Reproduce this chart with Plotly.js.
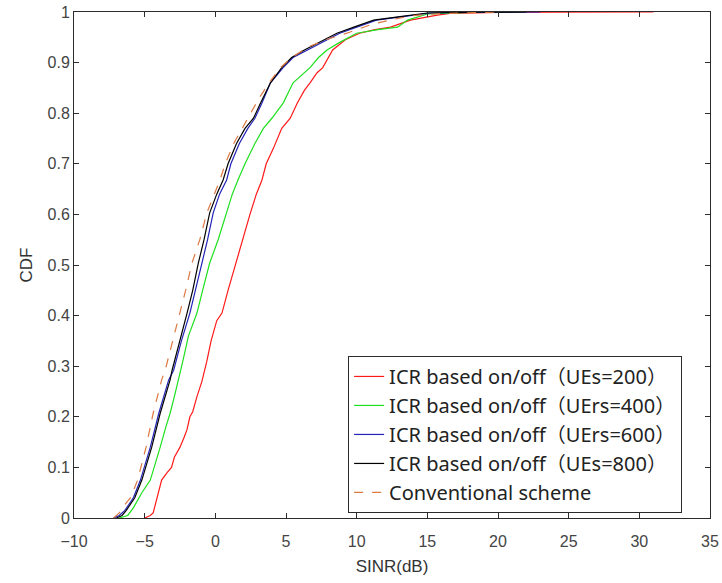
<!DOCTYPE html>
<html>
<head>
<meta charset="utf-8">
<script src="https://cdn.plot.ly/plotly-3.0.1.min.js"></script>
<style>html,body{margin:0;padding:0;background:#fff;}#chart{width:722px;height:583px;}</style>
</head>
<body>
<div id="chart"></div>
<script>
// Series names
const seriesNames = [
  "ICR based on/off\uFF08UEs=200\uFF09",
  "ICR based on/off\uFF08UErs=400\uFF09",
  "ICR based on/off\uFF08UErs=600\uFF09",
  "ICR based on/off\uFF08UEs=800\uFF09",
  "Conventional scheme"
];

// UEs=200 (red)
const redX = [-5.0,-4.6,-4.4,-4.2,-4.0,-3.8,-3.4,-3.1,-2.9,-2.5,-2.2,-2.0,-1.8,-1.6,-1.3,-0.95,-0.6,-0.3,0.1,0.47,0.9,1.4,1.9,2.45,2.9,3.3,3.6,4.1,4.7,5.3,5.8,6.3,6.7,7.2,7.6,8.3,9.2,10.2,11.3,12.4,13.8,15.7,16.6,20,24,31];
const redY = [0,0.005,0.01,0.03,0.05,0.075,0.09,0.1,0.12,0.14,0.16,0.175,0.2,0.21,0.24,0.27,0.31,0.35,0.39,0.405,0.45,0.5,0.55,0.6,0.64,0.668,0.7,0.73,0.77,0.79,0.82,0.845,0.86,0.88,0.89,0.925,0.945,0.958,0.965,0.97,0.984,0.994,0.997,0.999,0.9995,1];

// UErs=400 (green)
const greenX = [-6.8,-6.2,-5.8,-5.2,-4.6,-4.2,-3.9,-3.5,-3.2,-2.9,-2.6,-2.3,-1.9,-1.3,-0.9,-0.4,0.2,0.8,1.2,1.6,2.1,2.8,3.4,4.0,4.8,5.5,6.1,6.7,7.3,7.9,8.8,10.0,11.5,12.9,13.6,14.3,15,18,22];
const greenY = [0,0.005,0.02,0.05,0.075,0.11,0.14,0.18,0.207,0.24,0.273,0.31,0.36,0.405,0.45,0.504,0.55,0.603,0.64,0.668,0.7,0.74,0.77,0.79,0.82,0.86,0.875,0.89,0.91,0.925,0.94,0.958,0.965,0.97,0.984,0.99,0.996,0.999,1];

// UErs=600 (blue)
const blueX = [-7.2,-6.8,-6.4,-5.8,-5.3,-4.6,-4.0,-3.3,-2.95,-2.4,-1.8,-1.4,-0.95,-0.55,-0.15,0.3,0.8,1.1,1.7,2.3,2.8,3.3,3.9,4.8,5.5,6.5,7.5,8.8,10,11.4,13,14.2,15.2,19,23];
const blueY = [0,0.005,0.015,0.04,0.075,0.14,0.207,0.273,0.292,0.35,0.405,0.45,0.504,0.55,0.603,0.64,0.668,0.7,0.74,0.77,0.79,0.82,0.86,0.89,0.91,0.925,0.94,0.958,0.97,0.984,0.99,0.994,0.998,0.9995,1];

// UEs=800 (black)
const blackX = [-7.0,-6.6,-6.3,-5.7,-5.2,-4.5,-3.9,-3.2,-3.06,-2.5,-2.0,-1.6,-1.2,-0.8,-0.4,0.1,0.55,0.9,1.5,2.1,2.7,3.2,3.9,4.7,5.4,6.3,7.3,8.6,9.8,11.2,12.8,14.0,15.0,18,22];
const blackY = [0,0.005,0.015,0.04,0.075,0.14,0.207,0.273,0.292,0.35,0.405,0.45,0.504,0.55,0.603,0.64,0.668,0.7,0.74,0.77,0.79,0.82,0.86,0.89,0.91,0.925,0.94,0.958,0.97,0.984,0.99,0.994,0.998,0.9995,1];

// Conventional scheme (dashed)
const convX = [-7.2,-6.8,-6.3,-6.0,-5.5,-4.9,-4.4,-3.8,-3.55,-3.0,-2.5,-2.1,-1.65,-1.1,-0.6,-0.1,0.33,0.7,1.3,1.9,2.5,3.1,3.8,4.6,5.4,6.5,7.8,9.5,11,12.5,14,16,20];
const convY = [0,0.01,0.03,0.04,0.075,0.14,0.207,0.273,0.292,0.35,0.405,0.45,0.504,0.55,0.603,0.64,0.668,0.7,0.74,0.77,0.8,0.83,0.86,0.89,0.91,0.93,0.945,0.96,0.975,0.985,0.993,0.997,1];

const xTickVals = [-10,-5,0,5,10,15,20,25,30,35];
const yTickVals = [0,0.1,0.2,0.3,0.4,0.5,0.6,0.7,0.8,0.9,1];

const colors = ["#ff1a1a", "#1ee01e", "#2323b8", "#000000", "#dd7a44"];
const xs = [redX, greenX, blueX, blackX, convX];
const ys = [redY, greenY, blueY, blackY, convY];

const traces = xs.map((x, i) => ({
  x: x, y: ys[i], type: "scatter", mode: "lines",
  name: seriesNames[i], legendgroup: "g" + i,
  line: {color: colors[i], width: 1.2, dash: i === 4 ? "dash" : "solid"}
}));

const axisCommon = {
  showgrid: false, zeroline: false, showline: true, linecolor: "#2b2b2b", linewidth: 1,
  mirror: "ticks", ticks: "inside", ticklen: 5, tickcolor: "#2b2b2b",
  tickfont: {family: "Liberation Sans, Arial, sans-serif", size: 16, color: "#444"}
};

const layout = {
  width: 722, height: 583,
  margin: {l: 74, r: 12, t: 12, b: 65},
  paper_bgcolor: "#fff", plot_bgcolor: "#fff",
  showlegend: true,
  xaxis: Object.assign({}, axisCommon, {
    range: [-10, 35], tickvals: xTickVals, ticklabelstandoff: 9,
    title: {text: "SINR(dB)", font: {family: "Liberation Sans, Arial, sans-serif", size: 17, color: "#333"}, standoff: 10}
  }),
  yaxis: Object.assign({}, axisCommon, {
    range: [0, 1], tickvals: yTickVals,
    title: {text: "CDF", font: {family: "Liberation Sans, Arial, sans-serif", size: 17, color: "#333"}, standoff: 10}
  }),
  legend: {
    x: 0.431, y: 0.01, xanchor: "left", yanchor: "bottom",
    bgcolor: "#fff", bordercolor: "#2b2b2b", borderwidth: 1,
    font: {family: "'Noto Sans', 'Noto Sans CJK SC', sans-serif", size: 20, color: "#222"},
    traceorder: "grouped", tracegroupgap: 0
  }
};

Plotly.newPlot("chart", traces, layout, {displayModeBar: false, staticPlot: true});
</script>
</body>
</html>
